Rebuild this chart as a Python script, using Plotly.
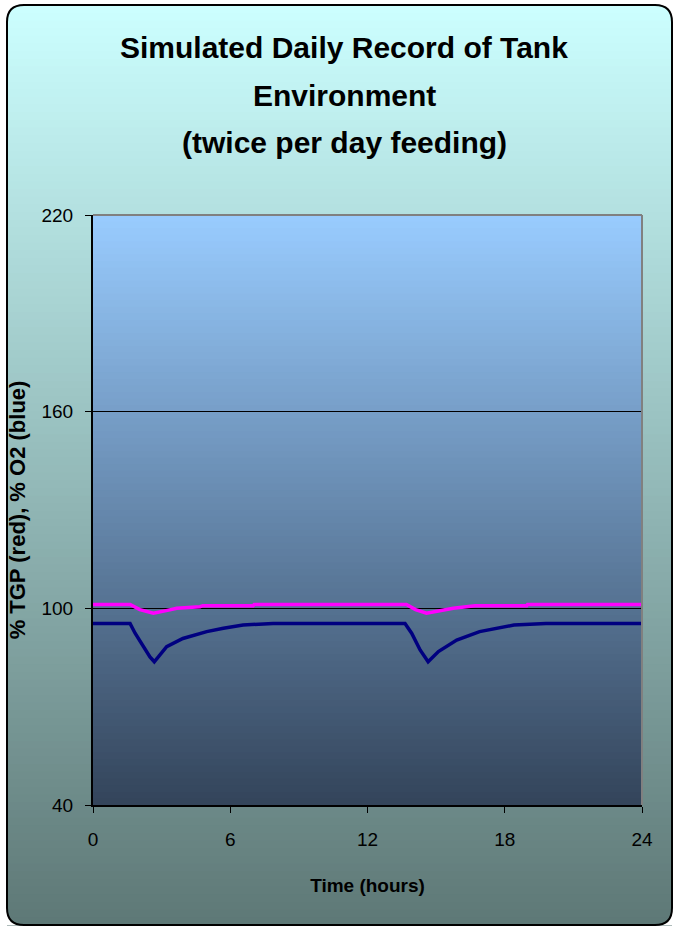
import plotly.graph_objects as go

# ---- data -------------------------------------------------------------
o2_hours = [0, 1.62, 1.84, 2.2, 2.49, 2.68, 3.22, 3.93, 4.97, 5.7, 6.56, 7.87,
            13.64, 13.93, 14.3, 14.65, 15.1, 15.9, 16.9, 18.4, 19.8, 24]
o2_pct = [95.4, 95.4, 92.4, 88.3, 85.2, 83.7, 88.3, 90.8, 92.9, 93.9, 94.9, 95.4,
          95.4, 92.4, 87.3, 83.7, 86.8, 90.3, 92.9, 94.9, 95.4, 95.4]

tgp_hours = [0, 1.62, 2.05, 2.64, 3.2, 3.66, 4.68, 4.8, 7.0, 7.05,
             13.7, 14.1, 14.58, 15.17, 15.75, 16.7, 18.96, 19.0, 24]
tgp_pct = [101.2, 101.2, 99.6, 98.5, 99.3, 100.0, 100.5, 100.8, 100.8, 101.2,
           101.2, 99.6, 98.5, 99.3, 100.0, 100.8, 100.8, 101.2, 101.2]

x_ticks = [0, 6, 12, 18, 24]
y_ticks = [40, 100, 160, 220]
title_lines = ["Simulated Daily Record of Tank", "Environment",
               "(twice per day feeding)"]

# ---- geometry ---------------------------------------------------------
W, H = 673, 926
ML, MR, MT, MB = 93, 31, 215, 121
PW, PH = W - ML - MR, H - MT - MB


def px(xp):
    return (xp - ML) / PW


def py(yp):
    return (H - MB - yp) / PH


def mix(c0, c1, f):
    return "rgb(%d,%d,%d)" % tuple(round(a + (b - a) * f) for a, b in zip(c0, c1))


shapes = []

# page background: vertical cyan -> grey-teal gradient inside the frame
FX0, FX1, FY0, FY1 = 7, 672, 5, 925
page_top, page_bot = (204, 255, 255), (94, 120, 118)
n = 120
for i in range(n):
    y0 = FY0 + (FY1 - FY0) * i / n
    y1 = FY0 + (FY1 - FY0) * (i + 1) / n + 0.6
    shapes.append(dict(type="rect", xref="paper", yref="paper", layer="below",
                       x0=px(FX0), x1=px(FX1), y0=py(y1), y1=py(y0),
                       fillcolor=mix(page_top, page_bot, (i + 0.5) / n),
                       line=dict(width=0)))

# rounded frame corners: white outside the arc, then the black outline
R = 17
corners = [(FX0, FY0, 1, 1), (FX1, FY0, -1, 1), (FX0, FY1, 1, -1), (FX1, FY1, -1, -1)]
for cx, cy, sx, sy in corners:
    path = "M %f %f L %f %f Q %f %f %f %f Z" % (
        px(cx), py(cy), px(cx + sx * R), py(cy),
        px(cx), py(cy), px(cx), py(cy + sy * R))
    shapes.append(dict(type="path", xref="paper", yref="paper", layer="below",
                       path=path, fillcolor="white", line=dict(width=0)))

frame = ("M {a} {b} L {c} {b} Q {e} {b} {e} {f} L {e} {g} Q {e} {h} {c} {h} "
         "L {a} {h} Q {i} {h} {i} {g} L {i} {f} Q {i} {b} {a} {b} Z").format(
    a=px(FX0 + R), b=py(FY0), c=px(FX1 - R), e=px(FX1), f=py(FY0 + R),
    g=py(FY1 - R), h=py(FY1), i=px(FX0))
shapes.append(dict(type="path", xref="paper", yref="paper", layer="below",
                   path=frame, line=dict(color="black", width=2)))

# plot area: light blue -> dark slate gradient
area_top, area_bot = (153, 204, 255), (51, 68, 90)
m = 90
for i in range(m):
    v1 = 220 - 180 * i / m
    v0 = 220 - 180 * (i + 1) / m - 0.4
    shapes.append(dict(type="rect", xref="x", yref="y", layer="below",
                       x0=0, x1=24, y0=max(v0, 40), y1=v1,
                       fillcolor=mix(area_top, area_bot, (i + 0.5) / m),
                       line=dict(width=0)))

# grey top and right edges of the plot area
shapes.append(dict(type="line", xref="paper", yref="paper", x0=0, x1=1, y0=1, y1=1,
                   line=dict(color="#808080", width=2)))
shapes.append(dict(type="line", xref="paper", yref="paper", x0=1, x1=1, y0=0, y1=1,
                   line=dict(color="#808080", width=2)))

fig = go.Figure()
fig.add_trace(go.Scatter(x=tgp_hours, y=tgp_pct, mode="lines", name="% TGP",
                         line=dict(color="#ff00ff", width=3.5)))
fig.add_trace(go.Scatter(x=o2_hours, y=o2_pct, mode="lines", name="% O2",
                         line=dict(color="#000080", width=3.5)))

base_font = "Liberation Sans, Arial"
annotations = []
for k, line in enumerate(title_lines):
    annotations.append(dict(text="<b>%s</b>" % line, xref="paper", yref="paper",
                            x=px(344), y=py(48 + 47 * k), showarrow=False,
                            xanchor="center", yanchor="middle",
                            font=dict(family=base_font, size=30, color="black")))

fig.update_layout(
    width=W, height=H,
    margin=dict(l=ML, r=MR, t=MT, b=MB, pad=0),
    paper_bgcolor="white", plot_bgcolor="rgba(0,0,0,0)",
    showlegend=False, shapes=shapes, annotations=annotations,
    font=dict(family=base_font, color="black"),
    xaxis=dict(range=[0, 24], tickvals=x_ticks, showgrid=False, zeroline=False,
               showline=True, linecolor="black", linewidth=2,
               ticks="outside", ticklen=6, tickcolor="black",
               ticklabelstandoff=10,
               tickfont=dict(size=19),
               title=dict(text="<b>Time (hours)</b>", standoff=30,
                          font=dict(size=19))),
    yaxis=dict(range=[40, 220], tickvals=y_ticks, showgrid=True,
               gridcolor="black", gridwidth=1, zeroline=False,
               showline=True, linecolor="black", linewidth=2,
               ticks="outside", ticklen=6, tickcolor="black",
               ticklabelstandoff=8,
               tickfont=dict(size=19),
               title=dict(text="<b>% TGP (red), % O2 (blue)</b>", standoff=10,
                          font=dict(size=22))),
)

fig.write_html("out.html")
